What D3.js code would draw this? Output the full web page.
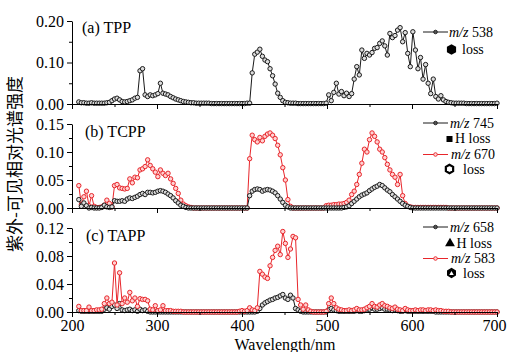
<!DOCTYPE html>
<html><head><meta charset="utf-8">
<script src="https://cdn.jsdelivr.net/npm/d3@7"></script>
<style>
body{margin:0;background:#fff}
svg{display:block}
text{font-family:"Liberation Serif","Times New Roman",serif;fill:#000}
</style>
</head><body><svg id="c" width="507" height="352"></svg>
<script>
// ---------- data ----------
const wavelengths = [
208,211,214,217,220,223,226,229,232,235,
238,241,244,247,250,253,256,259,262,265,
268,271,274,277,280,283,286,289,292,295,
298,301,304,307,310,313,316,319,322,325,
328,331,334,337,340,343,346,349,352,355,
358,361,364,367,370,373,376,379,382,385,
388,391,394,397,400,403,406,409,412,415,
418,421,424,427,430,433,436,439,442,445,
448,451,454,457,460,463,466,469,472,475,
478,481,484,487,490,493,496,499,502,505,
508,511,514,517,520,523,526,529,532,535,
538,541,544,547,550,553,556,559,562,565,
568,571,574,577,580,583,586,589,592,595,
598,601,604,607,610,613,616,619,622,625,
628,631,634,637,640,643,646,649,652,655,
658,661,664,667,670,673,676,679,682,685,
688,691,694,697,700];

const tpp538 = [
0.005,0.003,0.003,0.002,0.002,0.003,0.002,0.002,0.002,0.002,
0.002,0.003,0.004,0.008,0.012,0.014,0.010,0.006,0.005,0.006,
0.008,0.010,0.014,0.016,0.080,0.085,0.022,0.018,0.022,0.020,
0.022,0.025,0.050,0.026,0.024,0.022,0.018,0.015,0.012,0.010,
0.008,0.006,0.005,0.004,0.003,0.003,0.002,0.002,0.002,0.002,
0.002,0.002,0.001,0.001,0.001,0.001,0.001,0.001,0.001,0.001,
0.001,0.001,0.001,0.001,0.001,0.001,0.002,0.002,0.075,0.120,
0.125,0.132,0.115,0.106,0.102,0.085,0.068,0.048,0.026,0.016,
0.008,0.004,0.003,0.002,0.002,0.002,0.001,0.001,0.001,0.001,
0.001,0.001,0.001,0.001,0.001,0.001,0.001,0.002,0.022,0.008,
0.028,0.050,0.024,0.030,0.020,0.026,0.018,0.025,0.060,0.090,
0.070,0.130,0.110,0.122,0.118,0.124,0.134,0.136,0.146,0.152,
0.140,0.118,0.170,0.160,0.165,0.178,0.184,0.150,0.172,0.122,
0.090,0.174,0.130,0.085,0.112,0.060,0.095,0.050,0.025,0.060,
0.018,0.012,0.020,0.010,0.006,0.004,0.003,0.002,0.002,0.002,
0.002,0.002,0.001,0.001,0.001,0.001,0.001,0.001,0.001,0.001,
0.001,0.001,0.001,0.001,0.002];

const tcpp745 = [
0.015,0.003,0.009,0.004,0,0.001,0,0,0,0.001,
0.005,0.002,0.001,0.002,0.013,0.012,0.012,0.013,0.012,0.016,
0.018,0.017,0.019,0.021,0.024,0.026,0.024,0.028,0.028,0.027,
0.028,0.030,0.031,0.030,0.028,0.025,0.022,0.018,0.013,0.009,
0.005,0.003,0.001,0,0,0,0,0,0,0,
0,0,0,0,0,0,0,0,0,0,
0,0,0,0,0,0,0,0.022,0.030,0.033,
0.034,0.033,0.030,0.032,0.033,0.032,0.030,0.027,0.022,0.016,
0.010,0.005,0.002,0,0,0,0,0,0,0,
0,0,0,0,0,0,0,0,0,0,
0,0,0,0,0.001,0.002,0.004,0.008,0.012,0.016,
0.020,0.023,0.025,0.027,0.031,0.034,0.037,0.039,0.042,0.040,
0.036,0.032,0.029,0.024,0.020,0.016,0.012,0.008,0.005,0.003,
0.001,0,0,0,0,0,0,0,0,0,
0,0,0,0,0,0,0,0,0,0,
0,0,0,0,0,0,0,0,0,0,
0,0,0,0,0];

const tcpp670 = [
0.040,0.006,0.020,0.030,0.004,0.022,0.003,0.001,0.001,0.002,
0.005,0.014,0.008,0.002,0.040,0.042,0.036,0.035,0.034,0.035,
0.052,0.045,0.055,0.054,0.068,0.070,0.074,0.086,0.076,0.070,
0.064,0.056,0.068,0.062,0.058,0.062,0.052,0.044,0.035,0.026,
0.014,0.007,0.004,0.002,0.001,0,0,0,0,0,
0,0,0,0,0,0,0,0,0,0,
0,0,0,0,0,0,0,0.088,0.130,0.122,
0.118,0.126,0.120,0.128,0.132,0.134,0.130,0.124,0.112,0.095,
0.072,0.050,0.015,0.003,0,0,0,0,0,0,
0,0,0,0,0,0,0,0.004,0.005,0.005,
0.006,0.006,0.007,0.007,0.008,0.010,0.014,0.024,0.030,0.042,
0.060,0.080,0.105,0.100,0.122,0.134,0.128,0.118,0.105,0.100,
0.090,0.078,0.068,0.060,0.055,0.042,0.060,0.022,0.008,0.003,
0.002,0.001,0.001,0.001,0.001,0.001,0.001,0.001,0.001,0.001,
0.001,0.001,0.001,0.001,0.001,0,0,0,0,0,
0,0,0,0,0,0,0,0,0,0,
0,0,0,0,0];

const tapp658 = [
0.002,0.001,0.001,0.001,0.001,0.001,0.001,0.001,0.001,0.001,
0.004,0.006,0.004,0.008,0.010,0.005,0.012,0.003,0.002,0.003,
0.004,0.002,0.003,0.001,0.004,0.002,0.003,0.001,0,0,
0,0,0,0,0,0,0,0,0,0,
0,0,0,0,0,0,0,0,0,0,
0,0,0,0,0,0,0,0,0,0,
0,0,0,0,0,0,0,0,0,0,
0.001,0.005,0.010,0.013,0.015,0.017,0.018,0.020,0.021,0.023,
0.025,0.020,0.018,0.024,0.020,0.005,0.003,0.001,0,0,
0,0,0,0,0,0,0,0,0.003,0.005,
0.003,0.002,0.001,0.001,0.001,0.001,0.001,0.001,0.001,0.002,
0.001,0.001,0.002,0.003,0.004,0.006,0.004,0.004,0.005,0.006,
0.004,0.004,0.003,0.002,0.003,0.002,0.001,0.001,0.002,0.001,
0.001,0.001,0.001,0.001,0.001,0.001,0.001,0.001,0.001,0.001,
0,0,0,0,0,0,0,0,0,0,
0,0,0,0,0,0,0,0,0,0,
0,0,0,0,0];

const tapp583 = [
0.008,0.002,0.002,0.002,0.007,0.002,0.002,0.003,0.003,0.004,
0.012,0.020,0.012,0.014,0.070,0.010,0.056,0.012,0.020,0.014,
0.028,0.016,0.020,0.008,0.019,0.018,0.018,0.016,0.004,0.003,
0.009,0.002,0.003,0.009,0.002,0.002,0.002,0.001,0.001,0.001,
0.001,0,0,0,0,0,0,0,0,0,
0,0,0,0,0,0,0,0,0,0,
0,0,0,0.001,0.002,0.001,0.002,0.006,0.003,0.002,
0.006,0.058,0.054,0.050,0.048,0.066,0.078,0.088,0.094,0.082,
0.115,0.098,0.078,0.090,0.108,0.106,0.018,0.010,0.004,0.010,
0.003,0.001,0,0,0,0,0,0.001,0.012,0.020,
0.012,0.006,0.004,0.003,0.002,0.002,0.003,0.002,0.003,0.005,
0.003,0.003,0.004,0.006,0.008,0.012,0.008,0.007,0.010,0.012,
0.009,0.008,0.006,0.005,0.007,0.004,0.003,0.002,0.005,0.003,
0.002,0.002,0.003,0.002,0.003,0.003,0.002,0.003,0.003,0.002,
0.003,0.002,0.002,0.001,0.001,0.001,0,0,0,0,
0,0,0,0,0,0,0,0,0,0,
0,0,0,0,0];

const xTicks = [200,300,400,500,600,700];
const xMinorTicks = [250,350,450,550,650];
const yTicksA = [0,0.10,0.20], yMinorA = [0.05,0.15];
const yTicksB = [0,0.05,0.10,0.15], yMinorB = [0.025,0.075,0.125];
const yTicksC = [0,0.04,0.08,0.12], yMinorC = [0.02,0.06,0.10];
const panelLabels = ["(a) TPP","(b) TCPP","(c) TAPP"];
const legendNames = [["538"],["745","670"],["658","583"]];
const yTitle = "紫外-可见相对光谱强度";
const xTitle = "Wavelength/nm";

// ---------- drawing ----------
const svg = d3.select("#c");
const BLACK = "#1a1a1a", RED = "#e8262b";
const x = d3.scaleLinear().domain([200,700]).range([72,497]);

function hexPath(cx, cy, r){
  const pts = d3.range(6).map(k => {
    const a = Math.PI/2 + k*Math.PI/3;
    return [cx + r*Math.cos(a), cy - r*Math.sin(a)];
  });
  return "M" + pts.map(p => p.join(",")).join("L") + "Z";
}

const panels = [
  {label:panelLabels[0], top:21, bottom:104, max:0.20, ticks:yTicksA, minor:yMinorA,
   series:[{v:tpp538,c:BLACK,f:"#dcdcdc"}], lab:[82,33]},
  {label:panelLabels[1], top:124, bottom:208, max:0.15, ticks:yTicksB, minor:yMinorB,
   series:[{v:tcpp670,c:RED,f:"#ffd2d2"},{v:tcpp745,c:BLACK,f:"#dcdcdc"}], lab:[85,137]},
  {label:panelLabels[2], top:228, bottom:312, max:0.12, ticks:yTicksC, minor:yMinorC,
   series:[{v:tapp658,c:BLACK,f:"#dcdcdc"},{v:tapp583,c:RED,f:"#ffd2d2"}], lab:[86,241]}
];

panels.forEach((p, pi) => {
  const y = d3.scaleLinear().domain([0,p.max]).range([p.bottom,p.top]);
  const g = svg.append("g");

  // series
  p.series.forEach(s => {
    const pts = wavelengths.map((w,i) => [w, s.v[i]]);
    g.append("path").datum(pts)
      .attr("fill","none").attr("stroke",s.c).attr("stroke-width",1)
      .attr("d", d3.line().x(d => x(d[0])).y(d => y(d[1])));
    g.selectAll(null).data(pts).enter().append("circle")
      .attr("cx", d => x(d[0])).attr("cy", d => y(d[1])).attr("r",2.2)
      .attr("fill", s.f).attr("stroke", s.c).attr("stroke-width",1);
  });

  // y axis
  g.append("g").attr("transform","translate(72,0)")
    .call(d3.axisLeft(y).tickValues(p.ticks).tickFormat(d3.format(".2f")).tickSize(5).tickSizeOuter(0).tickPadding(3));
  g.append("g").attr("transform","translate(72,0)")
    .call(d3.axisLeft(y).tickValues(p.minor).tickFormat("").tickSize(3).tickSizeOuter(0))
    .select(".domain").remove();
  // x axis
  const last = pi === 2;
  const xa = g.append("g").attr("transform",`translate(0,${p.bottom})`)
    .call(d3.axisBottom(x).tickValues(xTicks).tickFormat(last ? d3.format("d") : "").tickSize(5).tickSizeOuter(0).tickPadding(3));
  if (last) xa.selectAll(".tick text").filter(d => d === 700).attr("dx", -3);
  g.append("g").attr("transform",`translate(0,${p.bottom})`)
    .call(d3.axisBottom(x).tickValues(xMinorTicks).tickFormat("").tickSize(3).tickSizeOuter(0))
    .select(".domain").remove();

  g.selectAll(".tick text").style("font-family","'Liberation Serif',serif").style("font-size","16px").attr("fill","#000");
  g.selectAll(".domain,.tick line").attr("stroke","#000").attr("stroke-width",1);

  // panel label
  g.append("text").attr("x",p.lab[0]).attr("y",p.lab[1]).style("font-size","16px").text(p.label);
});

// legends
function mzText(xp, yp, num){
  const t = svg.append("text").attr("x",xp).attr("y",yp).style("font-size","14px");
  t.append("tspan").style("font-style","italic").text("m/z");
  t.append("tspan").text(" " + num);
}
function legLine(yp, col, fillc){
  svg.append("line").attr("x1",423).attr("x2",448).attr("y1",yp).attr("y2",yp)
    .attr("stroke",col).attr("stroke-width",1);
  svg.append("circle").attr("cx",435.5).attr("cy",yp).attr("r",1.8)
    .attr("fill",fillc).attr("stroke",col).attr("stroke-width",0.9);
}
// (a)
legLine(32, BLACK, "#555");
mzText(449, 36.5, legendNames[0][0]);
svg.append("path").attr("d", hexPath(451.5, 49.5, 5.3)).attr("fill","#000");
svg.append("text").attr("x",462).attr("y",54).style("font-size","14px").text("loss");
// (b)
legLine(123, BLACK, "#555");
mzText(450, 127.5, legendNames[1][0]);
svg.append("rect").attr("x",446.5).attr("y",136).attr("width",6).attr("height",6).attr("fill","#000");
svg.append("text").attr("x",455).attr("y",143).style("font-size","14px").text("H loss");
legLine(154.5, RED, "#ffd2d2");
mzText(451, 159, legendNames[1][1]);
svg.append("path").attr("d", hexPath(449.5, 169, 4.2)).attr("fill","none").attr("stroke","#000").attr("stroke-width",2.2);
svg.append("text").attr("x",463).attr("y",174).style("font-size","14px").text("loss");
// (c)
legLine(227, BLACK, "#555");
mzText(450, 231.5, legendNames[2][0]);
svg.append("path").attr("d", d3.symbol().type(d3.symbolTriangle).size(42)()).attr("transform","translate(450,243.5)").attr("fill","#000");
svg.append("text").attr("x",456.5).attr("y",248).style("font-size","14px").text("H loss");
legLine(258.5, RED, "#ffd2d2");
mzText(451, 263, legendNames[2][1]);
svg.append("path").attr("d", hexPath(451.5, 273, 5.2)).attr("fill","#000");
svg.append("path").attr("d", d3.symbol().type(d3.symbolTriangle).size(9)()).attr("transform","translate(451.5,273.6)").attr("fill","#fff");
svg.append("text").attr("x",463).attr("y",278).style("font-size","14px").text("loss");

// axis titles
svg.append("text").attr("transform","translate(21,164) rotate(-90)").attr("text-anchor","middle")
  .style("font-family","'Noto Sans CJK SC',sans-serif").style("font-size","17px").text(yTitle);
svg.append("text").attr("x",285).attr("y",350).attr("text-anchor","middle").style("font-size","16px").text(xTitle);
</script>
</body></html>
